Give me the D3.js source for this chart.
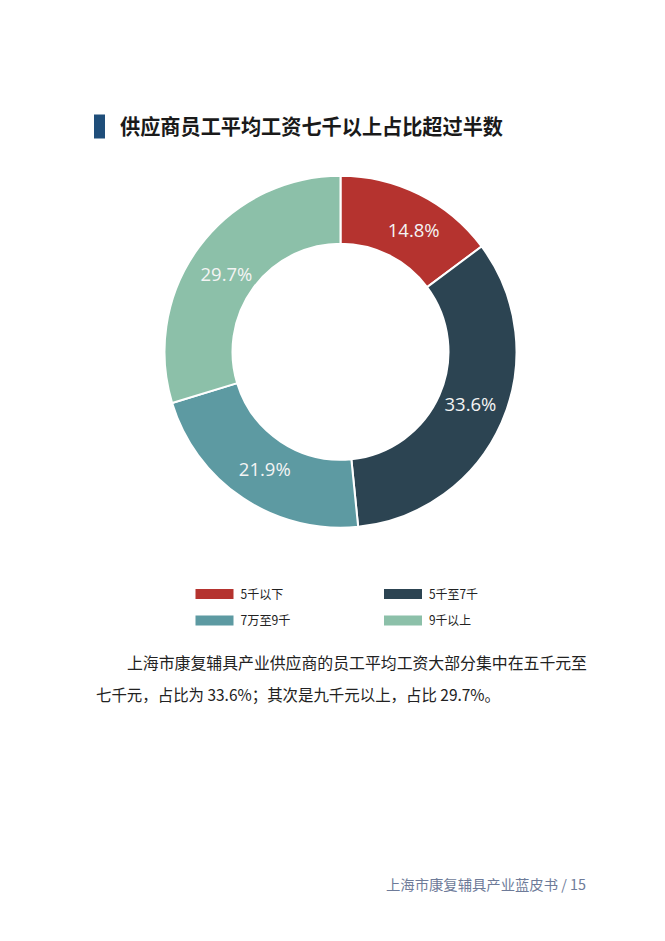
<!DOCTYPE html>
<html><head><meta charset="utf-8">
<script src="https://cdn.jsdelivr.net/npm/d3@7"></script>
<style>
html,body{margin:0;padding:0;background:#fff;}
svg{display:block;}
</style></head>
<body>
<svg id="c" width="665" height="941"></svg>
<script>
const categories = ["5千以下", "5千至7千", "7万至9千", "9千以上"];
const values = [14.8, 33.6, 21.9, 29.7];
const colors = ["#b5332f", "#2c4452", "#5d9aa2", "#8cc0a9"];
const title = "供应商员工平均工资七千以上占比超过半数";
const bodyLines = ["上海市康复辅具产业供应商的员工平均工资大部分集中在五千元至", "七千元，占比为 33.6%；其次是九千元以上，占比 29.7%。"];
const footer = "上海市康复辅具产业蓝皮书 / 15";

const svg = d3.select("#c");
const cjk = "'Noto Sans CJK SC','Noto Sans',sans-serif";

// title
svg.append("rect").attr("x",94).attr("y",114.5).attr("width",11).attr("height",24).attr("fill","#1f4e7a");
svg.append("text").attr("x",120).attr("y",134).attr("font-family",cjk).attr("font-weight","bold")
  .attr("font-size",21).attr("fill","#1a1a1a")
  .attr("textLength",383).attr("lengthAdjust","spacingAndGlyphs").text(title);

// donut
const cx = 340.5, cy = 351.7, rO = 176, rI = 108;
const pie = d3.pie().sort(null).value(d=>d)(values);
const arc = d3.arc().innerRadius(rI).outerRadius(rO);
const g = svg.append("g").attr("transform",`translate(${cx},${cy})`);
g.selectAll("path").data(pie).join("path").attr("d",arc)
  .attr("fill",(d,i)=>colors[i]).attr("stroke","#fff").attr("stroke-width",2);
const lblOffset = [[9.5,5.5],[0,-5],[3,-1],[0,7]];
g.selectAll("text").data(pie).join("text")
  .attr("transform",(d,i)=>{const c=arc.centroid(d);return `translate(${c[0]+lblOffset[i][0]},${c[1]+lblOffset[i][1]})`;})
  .attr("text-anchor","middle").attr("dy","0.36em")
  .attr("font-family","'Open Sans','Noto Sans',sans-serif").attr("font-size",18.5)
  .attr("fill","#f4f4f4").text(d=>d.data.toFixed(1)+"%");

// legend
const legX = [195.5, 384], legY = [594, 620.5];
const legW = [42.7, 49, 50, 42];
const leg = svg.append("g");
categories.forEach((c,i)=>{
  const x = legX[i%2], y = legY[Math.floor(i/2)];
  leg.append("rect").attr("x",x).attr("y",y-5).attr("width",38).attr("height",10).attr("fill",colors[i]);
  leg.append("text").attr("x",x+45).attr("y",y).attr("dy","0.36em").attr("font-family",cjk)
    .attr("font-size",12.5).attr("fill","#222")
    .attr("textLength",legW[i]).attr("lengthAdjust","spacingAndGlyphs").text(c);
});

// body text
svg.append("text").attr("x",127).attr("y",669).attr("font-family",cjk).attr("font-size",16).attr("fill","#222")
  .attr("textLength",460).attr("lengthAdjust","spacingAndGlyphs").text(bodyLines[0]);
svg.append("text").attr("x",96).attr("y",701).attr("font-family",cjk).attr("font-size",16).attr("fill","#222")
  .attr("textLength",404).attr("lengthAdjust","spacingAndGlyphs").text(bodyLines[1]);

// footer
svg.append("text").attr("x",386).attr("y",890).attr("font-family",cjk)
  .attr("font-size",14).attr("fill","#6e7b99")
  .attr("textLength",200).attr("lengthAdjust","spacingAndGlyphs").text(footer);
</script>
</body></html>
